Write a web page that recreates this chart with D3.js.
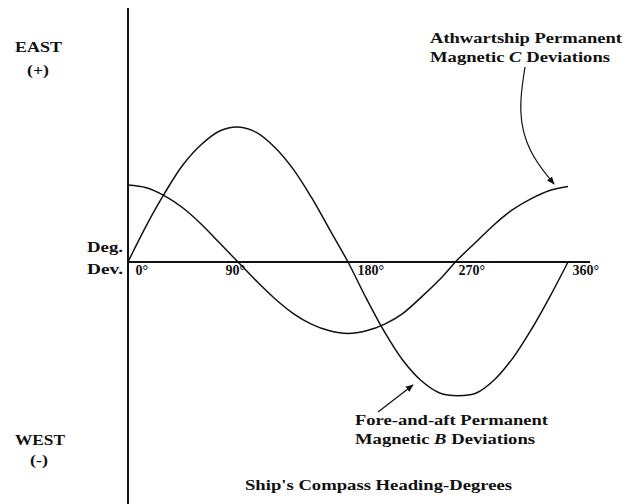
<!DOCTYPE html>
<html><head><meta charset="utf-8">
<script src="https://cdn.jsdelivr.net/npm/d3@7"></script>
<style>body{margin:0;background:#fff}svg{display:block}text{font-family:"Liberation Serif","DejaVu Serif",serif;fill:#111}</style>
</head><body>
<script>
// Data (deviation units, arbitrary scale)
const headings = [0,15,30,45,60,75,90,105,120,135,150,165,180,195,210,225,240,255,270,285,300,315,330,345,360];
const bDeviation = [0,2.7,5.1,7.2,8.7,9.7,10,9.6,8.5,6.9,4.8,2.4,0,-2.7,-5.2,-7.3,-8.8,-9.7,-9.9,-9.7,-8.7,-7.1,-5,-2.6,0];
const cDeviation = [5.7,5.5,4.9,4.0,2.8,1.4,0,-1.4,-2.7,-3.8,-4.6,-5.1,-5.3,-5.1,-4.6,-3.8,-2.6,-1.3,0.2,1.5,2.8,3.9,4.7,5.3,5.6];
const tickValues = [0,90,180,270,360];
const tickLabels = ["0°","90°","180°","270°","360°"];

const W=633,H=504;
const svg=d3.select("body").append("svg").attr("width",W).attr("height",H);
const x=d3.scaleLinear().domain([0,360]).range([128,568]);
const y=d3.scaleLinear().domain([-10,10]).range([397,127]);

svg.append("defs").append("marker").attr("id","ah").attr("viewBox","0 0 10 10")
  .attr("refX",9).attr("refY",5).attr("markerWidth",8).attr("markerHeight",8)
  .attr("markerUnits","userSpaceOnUse").attr("orient","auto")
  .append("path").attr("d","M0,1 L10,5 L0,9 Z").attr("fill","#111");

// axes
svg.append("line").attr("x1",x(0)).attr("x2",x(0)).attr("y1",8).attr("y2",504)
  .attr("stroke","#111").attr("stroke-width",2);
svg.append("line").attr("x1",x(0)).attr("x2",590).attr("y1",y(0)).attr("y2",y(0))
  .attr("stroke","#111").attr("stroke-width",2);

const ax=svg.append("g").attr("transform",`translate(0,${y(0)})`)
  .call(d3.axisBottom(x).tickValues(tickValues).tickSize(0).tickFormat((d,i)=>tickLabels[i]));
ax.select(".domain").remove();
const tickDx={0:7,90:-13,180:9,270:0,360:4};
ax.attr("font-size",null).attr("font-family",null);
ax.selectAll("text").attr("text-anchor","start").attr("dy",null).attr("y",13)
  .attr("dx",d=>tickDx[d]).attr("font-size",14).attr("font-weight",600)
  .style("font-family","'Liberation Serif',serif").attr("fill","#111");

// curves
const line=d3.line().x((d,i)=>x(headings[i])).y(d=>y(d)).curve(d3.curveCatmullRom);
svg.append("path").attr("d",line(bDeviation)).attr("fill","none").attr("stroke","#111").attr("stroke-width",1.5);
svg.append("path").attr("d",line(cDeviation)).attr("fill","none").attr("stroke","#111").attr("stroke-width",1.5);

function txt(s,xx,yy,len,size,html){
  const t=svg.append("text").attr("x",xx).attr("y",yy).attr("font-weight","bold")
    .attr("font-size",size||15).attr("textLength",len).attr("lengthAdjust","spacingAndGlyphs");
  if(html) t.html(s); else t.text(s);
  return t;
}
txt("EAST",15,52,47,14);
txt("(+)",27,75,22,14);
txt("WEST",15,445,50,14);
txt("(-)",30,465,18,14);
txt("Deg.",87,252,36,14);
txt("Dev.",87,274,36,14);
txt("Athwartship Permanent",430,43,192,15);
txt("Magnetic <tspan font-style='italic'>C</tspan> Deviations",430,62,180,15,true);
txt("Fore-and-aft Permanent",355,425,193,15);
txt("Magnetic <tspan font-style='italic'>B</tspan> Deviations",355,444,180,15,true);
txt("Ship's Compass Heading-Degrees",245,490,267,15);

// annotation arrows
svg.append("path").attr("d",d3.line().curve(d3.curveBasis)([[525,67],[518,112],[528,152],[554,184]]))
  .attr("fill","none").attr("stroke","#111").attr("stroke-width",1.2).attr("marker-end","url(#ah)");
svg.append("line").attr("x1",378).attr("y1",412).attr("x2",413).attr("y2",385)
  .attr("stroke","#111").attr("stroke-width",1.2).attr("marker-end","url(#ah)");
</script>
</body></html>
